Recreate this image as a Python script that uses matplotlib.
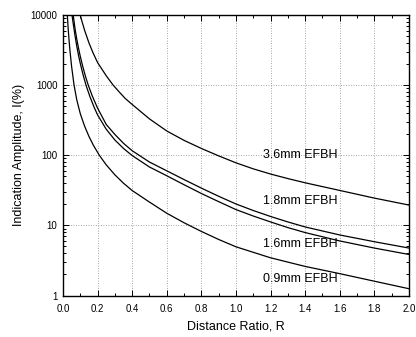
import matplotlib
matplotlib.use("Agg")
import matplotlib.pyplot as plt
from matplotlib.ticker import MultipleLocator, LogLocator, FixedLocator, NullFormatter

plt.rcParams['font.family'] = ['Liberation Sans', 'DejaVu Sans']

# Data (Distance ratio R vs indication amplitude %)
r_36 = [0.0, 0.10, 0.11, 0.125, 0.15, 0.175, 0.2, 0.25, 0.29, 0.33, 0.36, 0.4, 0.5, 0.6, 0.7, 0.8,
        0.9, 1.0, 1.1, 1.2, 1.3, 1.4, 1.6, 1.8, 2.0]
i_36 = [10000, 10000, 8070, 6050, 4010, 2840, 2100, 1360, 1000, 775, 645, 530, 330, 222, 163, 125,
        98, 78, 64, 54, 46.5, 40.5, 31.5, 24.5, 19.5]

r_18 = [0.0, 0.059, 0.07, 0.08, 0.09, 0.1, 0.115, 0.13, 0.146, 0.17, 0.2, 0.25, 0.3, 0.35, 0.4,
        0.5, 0.6, 0.7, 0.8, 0.9, 1.0, 1.1, 1.2, 1.3, 1.4, 1.6, 1.8, 2.0]
i_18 = [10000, 10000, 6280, 4500, 3350, 2575, 1816, 1336, 1000, 694, 470, 275, 198, 148, 116,
        80, 60, 45, 34, 26, 20.2, 16.3, 13.4, 11.2, 9.5, 7.3, 5.85, 4.75]

r_16 = [0.0, 0.052, 0.06, 0.07, 0.08, 0.09, 0.1, 0.115, 0.133, 0.155, 0.18, 0.2, 0.25, 0.3, 0.35,
        0.4, 0.5, 0.6, 0.7, 0.8, 0.9, 1.0, 1.1, 1.2, 1.3, 1.4, 1.6, 1.8, 2.0]
i_16 = [10000, 10000, 7300, 5000, 3560, 2650, 2040, 1440, 1000, 693, 484, 376, 235, 165, 125,
        99, 68, 51, 38, 28.5, 21.8, 16.8, 13.6, 11.2, 9.3, 7.9, 6.0, 4.75, 3.85]

r_09 = [0.0, 0.025, 0.03, 0.035, 0.04, 0.05, 0.064, 0.08, 0.1, 0.125, 0.15, 0.175, 0.21, 0.25, 0.3,
        0.35, 0.4, 0.5, 0.6, 0.7, 0.8, 0.9, 1.0, 1.2, 1.4, 1.6, 1.8, 2.0]
i_09 = [10000, 10000, 6400, 4400, 3160, 1830, 1000, 612, 392, 260, 186, 140, 100, 73, 52.6,
        39.9, 31.4, 21.5, 14.9, 10.9, 8.2, 6.3, 4.95, 3.45, 2.6, 2.05, 1.6, 1.25]

labels = ["3.6mm EFBH", "1.8mm EFBH", "1.6mm EFBH", "0.9mm EFBH"]
label_r = [1.37, 1.37, 1.37, 1.37]
label_i = [100, 22.3, 5.5, 1.73]

x_ticks = [0.0, 0.2, 0.4, 0.6, 0.8, 1.0, 1.2, 1.4, 1.6, 1.8, 2.0]
x_ticklabels = ["0.0", "0.2", "0.4", "0.6", "0.8", "1.0", "1.2", "1.4", "1.6", "1.8", "2.0"]
y_ticks = [1, 10, 100, 1000, 10000]
y_ticklabels = ["1", "10", "100", "1000", "10000"]

fig = plt.figure(figsize=(4.16, 3.37), dpi=100)
ax = fig.add_axes([0.1514, 0.1231, 0.8316, 0.8324])

for r, i in [(r_36, i_36), (r_18, i_18), (r_16, i_16), (r_09, i_09)]:
    ax.plot(r, i, color='black', lw=0.9, solid_joinstyle='round')

ax.set_yscale('log')
ax.set_xlim(0, 2.0)
ax.set_ylim(1, 10000)

ax.xaxis.set_major_locator(FixedLocator(x_ticks))
ax.set_xticklabels(x_ticklabels)
ax.xaxis.set_minor_locator(MultipleLocator(0.1))
ax.yaxis.set_major_locator(FixedLocator(y_ticks))
ax.set_yticklabels(y_ticklabels)
ax.yaxis.set_minor_locator(LogLocator(base=10, subs=range(2, 10)))
ax.yaxis.set_minor_formatter(NullFormatter())

ax.tick_params(which='both', direction='in', top=True, right=True, labelsize=7, width=0.7)
ax.tick_params(axis='x', which='major', pad=6)
ax.tick_params(axis='y', which='major', pad=4)
ax.tick_params(which='major', length=4)
ax.tick_params(which='minor', length=2)

ax.grid(True, which='major', linestyle=(0, (1, 2)), color='#888888', lw=0.6)

for s in ax.spines.values():
    s.set_linewidth(1.0)

for t, xr, yi in zip(labels, label_r, label_i):
    ax.text(xr, yi, t, fontsize=9, ha='center', va='center', color='black')

ax.set_xlabel("Distance Ratio, R", fontsize=9, labelpad=5)
ax.set_ylabel("Indication Amplitude, I(%)", fontsize=9, labelpad=4)

fig.savefig("out.png", dpi=100)
